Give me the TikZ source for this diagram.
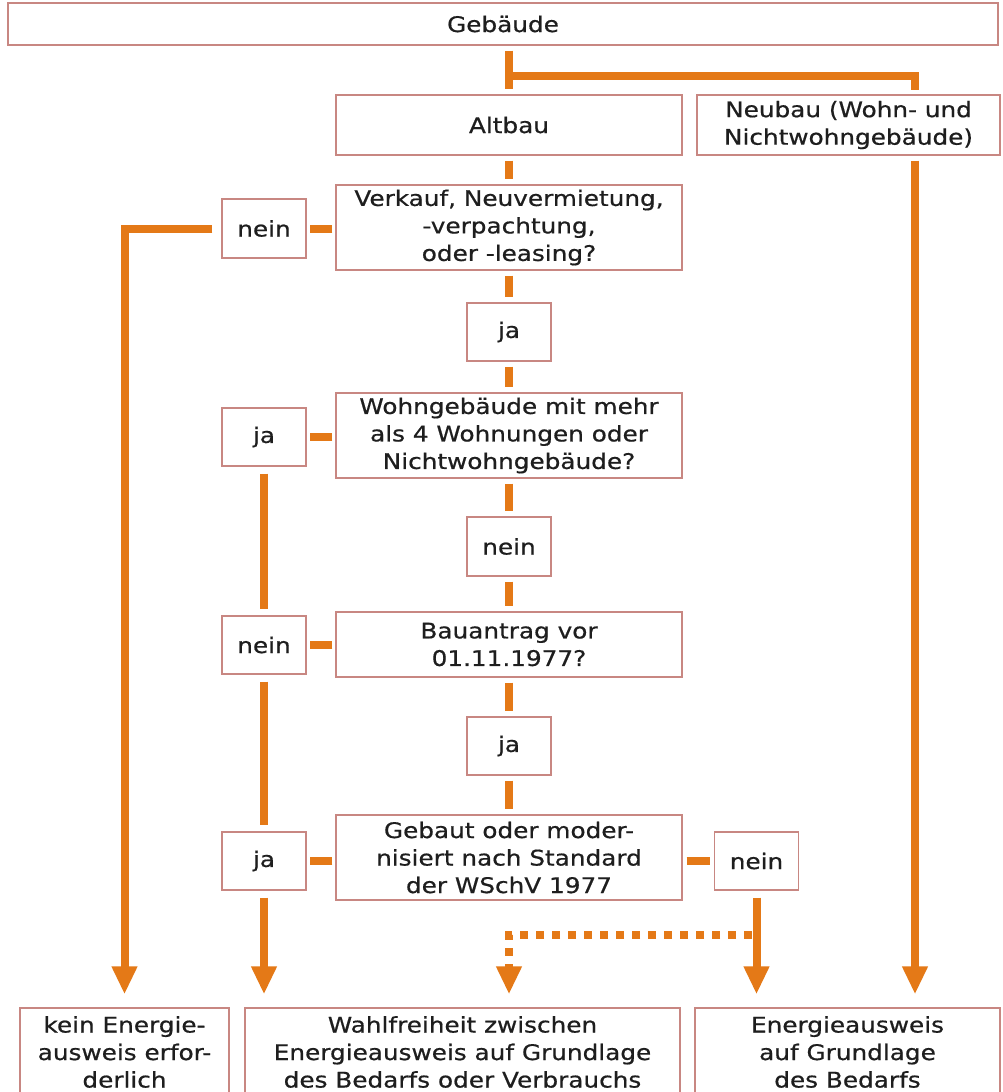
\documentclass[tikz,border=0pt]{standalone}
\usepackage{fontspec}
\newfontfamily\boxfont{DejaVu Sans}[FakeStretch=1.15,FakeBold=0.6]
\usetikzlibrary{arrows.meta}
\definecolor{org}{RGB}{228,121,23}
\definecolor{bord}{RGB}{200,135,130}
\definecolor{txt}{RGB}{30,30,30}
\tikzset{
  box/.style={draw=bord, line width=1.3pt, fill=white, inner sep=0pt, align=center,
    text=txt, font=\boxfont\fontsize{21.5}{27.5}\selectfont},
  conn/.style={draw=org, line width=8pt, shorten <=5pt, shorten >=5pt},
  arr/.style={draw=org, line width=8pt, shorten <=5pt, shorten >=13pt,
    -{Triangle[width=24pt,length=28pt]}},
  dotline/.style={draw=org, line width=8pt, dash pattern=on 8pt off 8pt, shorten >=13pt,
    -{Triangle[width=24pt,length=28pt]}},
}
\begin{document}
\begin{tikzpicture}[x=1pt,y=-1pt]
\clip (0,0) rectangle (1002,1092);
\fill[white] (0,0) rectangle (1002,1092);
% boxes
\node[box, minimum width=990, minimum height=42] (geb) at (503,24) {Gebäude};
\node[box, minimum width=346, minimum height=60] (alt) at (509,125) {Altbau};
\node[box, minimum width=303, minimum height=60] (neu) at (848.5,125) {Neubau (Wohn- und\\Nichtwohngebäude)};
\node[box, minimum width=346, minimum height=85] (q1) at (509,227.5) {Verkauf, Neuvermietung,\\-verpachtung,\\oder -leasing?};
\node[box, minimum width=84, minimum height=59] (n1) at (264,228.5) {nein};
\node[box, minimum width=84, minimum height=58] (j1) at (509,332) {ja};
\node[box, minimum width=346, minimum height=85] (q2) at (509,435.5) {Wohngebäude mit mehr\\als 4 Wohnungen oder\\Nichtwohngebäude?};
\node[box, minimum width=84, minimum height=58] (j2) at (264,437) {ja};
\node[box, minimum width=84, minimum height=59] (n2) at (509,546.5) {nein};
\node[box, minimum width=346, minimum height=65] (q3) at (509,644.5) {Bauantrag vor\\01.11.1977?};
\node[box, minimum width=84, minimum height=58] (n3) at (264,645) {nein};
\node[box, minimum width=84, minimum height=58] (j3) at (509,746) {ja};
\node[box, minimum width=346, minimum height=85] (q4) at (509,857.5) {Gebaut oder moder-\\nisiert nach Standard\\der WSchV 1977};
\node[box, minimum width=84, minimum height=58] (j4) at (264,861) {ja};
\node[box, minimum width=84, minimum height=58] (n4) at (756.5,861) {nein};
\node[box, minimum width=209, minimum height=88] (b1) at (124.5,1052) {kein Energie-\\ausweis erfor-\\derlich};
\node[box, minimum width=435, minimum height=88] (b2) at (462.5,1052) {Wahlfreiheit zwischen\\Energieausweis auf Grundlage\\des Bedarfs oder Verbrauchs};
\node[box, minimum width=305, minimum height=88] (b3) at (847.5,1052) {Energieausweis\\auf Grundlage\\des Bedarfs};
% helper coordinates
\coordinate (tj) at (509,76);
\coordinate (nt) at (915,95);
\coordinate (dt) at (752,935);
% connectors
\draw[conn] (alt.north |- geb.south) -- (alt.north);
\draw[draw=org, line width=8pt, shorten >=5pt] (tj) -- (tj -| nt) -- (nt);
\draw[arr] (neu.south -| nt) -- (b3.north -| nt);
\draw[conn] (alt) -- (q1);
\draw[conn, shorten <=3pt, shorten >=3pt] (q1.west |- n1.east) -- (n1.east);
\draw[arr, shorten <=9pt] (n1.west) -| (b1.north);
\draw[conn] (q1) -- (j1);
\draw[conn] (j1) -- (q2);
\draw[conn] (q2) -- (n2);
\draw[conn] (n2) -- (q3);
\draw[conn] (q3) -- (j3);
\draw[conn] (j3) -- (q4);
\draw[conn, shorten <=3pt, shorten >=3pt] (q2.west |- j2.east) -- (j2.east);
\draw[conn, shorten <=7pt, shorten >=6pt] (j2) -- (n3);
\draw[conn, shorten <=3pt, shorten >=3pt] (q3.west |- n3.east) -- (n3.east);
\draw[conn, shorten <=7pt, shorten >=6pt] (n3) -- (j4);
\draw[conn, shorten <=3pt, shorten >=3pt] (q4.west |- j4.east) -- (j4.east);
\draw[arr, shorten <=7pt] (j4.south) -- (j4.south |- b2.north);
\draw[conn, shorten <=4pt, shorten >=4pt] (q4.east |- n4.west) -- (n4.west);
\draw[arr, shorten <=7pt] (n4.south) -- (n4.south |- b3.north);
\draw[dotline] (dt) -| (b2.north -| q4.south);
\end{tikzpicture}
\end{document}
